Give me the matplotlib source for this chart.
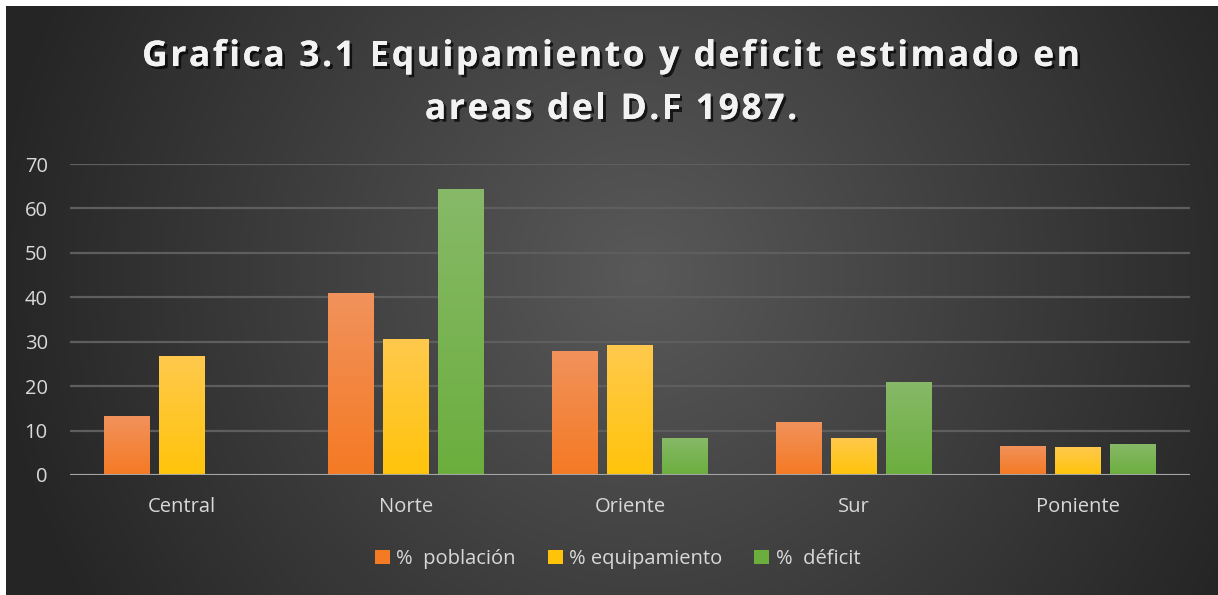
import numpy as np
import matplotlib.pyplot as plt
import matplotlib.patheffects as pe
from matplotlib.patches import Patch

categories = ['Central', 'Norte', 'Oriente', 'Sur', 'Poniente']
series_names = ['%  población', '% equipamiento', '%  déficit']
poblacion = [13.3, 41.0, 28.0, 12.0, 6.6]
equipamiento = [26.8, 30.7, 29.2, 8.4, 6.2]
deficit = [0, 64.3, 8.4, 21.0, 7.0]
yticks = [0, 10, 20, 30, 40, 50, 60, 70]
title_lines = ['Grafica 3.1 Equipamiento y deficit estimado en', 'areas del D.F 1987.']

# (top colour, bottom colour) for the gradient bars
bar_cols = [('#F1925C', '#F57A24'), ('#FFC94D', '#FFC40A'), ('#87B968', '#6CAE3E')]
txt = '#D9D9D9'
font = 'Open Sans'

W, H = 1218, 595
fig = plt.figure(figsize=(W / 100, H / 100), dpi=100)
fig.patch.set_facecolor('white')

# radial background
bg = fig.add_axes([6 / W, 0, 1 - 6 / W, 1 - 6 / H])
bg.set_axis_off()
yy, xx = np.mgrid[0:H, 0:W]
d = np.sqrt((xx - 640) ** 2 + (yy - 270) ** 2)
g = (89 - 52 * np.clip(d / 660, 0, 1)) / 255
bg.imshow(np.dstack([g, g, g]), aspect='auto', extent=[0, 1, 0, 1])
bg.set_xlim(0, 1)
bg.set_ylim(0, 1)

ax = fig.add_axes([70 / W, 1 - 475 / H, 1120 / W, 311 / H])
ax.patch.set_alpha(0)
x = np.arange(len(categories))
width = 0.205
step = 0.245
for i, vals in enumerate([poblacion, equipamiento, deficit]):
    bars = ax.bar(x + (i - 1) * step, vals, width, color=bar_cols[i][1], zorder=3)
    top = np.array(plt.matplotlib.colors.to_rgb(bar_cols[i][0]))
    bot = np.array(plt.matplotlib.colors.to_rgb(bar_cols[i][1]))
    grad = np.linspace(0, 1, 100)[:, None, None] * (bot - top) + top
    for b in bars:
        if b.get_height() <= 0:
            continue
        im = ax.imshow(grad, aspect='auto', zorder=4,
                       extent=[b.get_x(), b.get_x() + b.get_width(), 0, b.get_height()])
        im.set_clip_path(b)

ax.set_xlim(-0.5, len(categories) - 0.5)
ax.set_ylim(0, 70)
ax.set_yticks(yticks)
ax.set_xticks(x)
ax.set_xticklabels(categories)
ax.grid(axis='y', color='#5E5E5E', lw=1.6, zorder=0)
ax.axhline(0, color='#A6A6A6', lw=2.2, zorder=5)
for s in ax.spines.values():
    s.set_visible(False)
ax.tick_params(length=0, colors=txt, labelsize=14.5)
ax.tick_params(axis='x', pad=16)
ax.tick_params(axis='y', pad=16)
for lab in ax.get_xticklabels() + ax.get_yticklabels():
    lab.set_fontfamily(font)

# title with expanded letter spacing (drawn char by char)
renderer = fig.canvas.get_renderer()
tkw = dict(color='#F2F2F2', fontsize=25.5, fontweight='bold', family=font,
           va='center', ha='left',
           path_effects=[pe.withSimplePatchShadow(offset=(2, -2), shadow_rgbFace='black', alpha=0.7),
                         pe.Normal()])
spacing = 2.6
for line, ypix in zip(title_lines, [57, 110]):
    widths = []
    for ch in line:
        t = fig.text(0, 0, ch.replace(' ', 'n') if ch == ' ' else ch, **tkw)
        w = t.get_window_extent(renderer).width
        if ch == ' ':
            t2 = fig.text(0, 0, 'n n', **tkw)
            w = t2.get_window_extent(renderer).width - w * 2
            t2.remove()
        t.remove()
        widths.append(w)
    total = sum(widths) + spacing * (len(line) - 1)
    xp = 611 - total / 2
    for ch, w in zip(line, widths):
        if ch != ' ':
            fig.text(xp / W, 1 - ypix / H, ch, **tkw)
        xp += w + spacing

handles = [Patch(facecolor=c[1], edgecolor='none') for c in bar_cols]
leg = fig.legend(handles, series_names, loc='center', bbox_to_anchor=(0.507, 1 - 559 / H),
                 ncol=3, frameon=False, handlelength=0.75, handleheight=0.75,
                 handletextpad=0.3, columnspacing=1.6,
                 prop={'family': font, 'size': 14.5})
for t in leg.get_texts():
    t.set_color(txt)

fig.savefig('out.png', dpi=100, facecolor=fig.get_facecolor())
